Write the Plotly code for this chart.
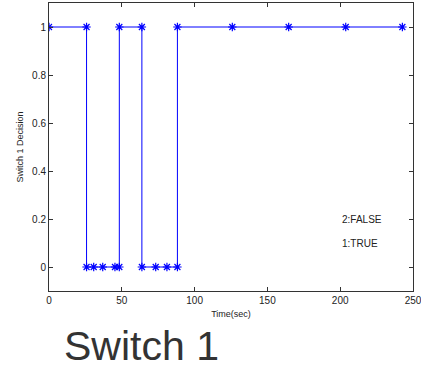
import plotly.graph_objects as go

# Data (step trace of switch decision)
time_sec = [0, 25.8, 25.8, 30.7, 36.9, 45.3, 48.3, 48.3, 63.8, 63.8, 73.3, 81.0, 88.2, 88.2, 125.9, 164.6, 203.8, 242.7]
decision = [1, 1, 0, 0, 0, 0, 0, 1, 1, 0, 0, 0, 0, 1, 1, 1, 1, 1]
x_ticks = [0, 50, 100, 150, 200, 250]
y_ticks = [0, 0.2, 0.4, 0.6, 0.8, 1]
y_tick_text = ["0", "0.2", "0.4", "0.6", "0.8", "1"]
legend_notes = ["2:FALSE", "1:TRUE"]
legend_note_x = [200, 200]
legend_note_y = [0.2, 0.1]

FONT = "Liberation Sans, Arial, sans-serif"

fig = go.Figure()
fig.add_trace(go.Scatter(
    x=time_sec, y=decision, mode="lines+markers",
    line=dict(color="rgb(0,0,255)", width=1),
    marker=dict(symbol="asterisk-open", size=7, color="rgb(0,0,255)",
                line=dict(color="rgb(0,0,255)", width=1.2)),
    showlegend=False, hoverinfo="x+y",
))

annotations = []
for t, xv, yv in zip(legend_notes, legend_note_x, legend_note_y):
    annotations.append(dict(x=xv, y=yv, xref="x", yref="y", text=t, showarrow=False,
                            xanchor="left", yanchor="middle",
                            font=dict(family=FONT, size=10, color="#222")))
annotations.append(dict(x=0.036, y=-0.19, xref="paper", yref="paper", text="Switch 1",
                        showarrow=False, xanchor="left", yanchor="middle",
                        font=dict(family=FONT, size=41, color="#333")))

axis_common = dict(showline=True, linecolor="#333", linewidth=1, mirror="ticks",
                   ticks="inside", ticklen=4, tickcolor="#333", showgrid=False,
                   zeroline=False, automargin=False,
                   tickfont=dict(family=FONT, size=10, color="#222"))

fig.update_layout(
    width=421, height=369,
    margin=dict(l=49, r=8, t=3, b=78),
    paper_bgcolor="white", plot_bgcolor="white",
    xaxis=dict(range=[0, 250], tickvals=x_ticks, ticklabeloverflow="allow", **axis_common,
               title=dict(text="Time(sec)", font=dict(family=FONT, size=9, color="#222"), standoff=5)),
    yaxis=dict(range=[-0.1, 1.1], tickvals=y_ticks, ticktext=y_tick_text, **axis_common,
               title=dict(text="Switch 1 Decision", font=dict(family=FONT, size=9, color="#222"), standoff=6)),
    annotations=annotations,
)

fig.write_html("out.html", config={"displayModeBar": False},
               post_script="document.body.style.margin='0';document.body.style.overflow='hidden';")
